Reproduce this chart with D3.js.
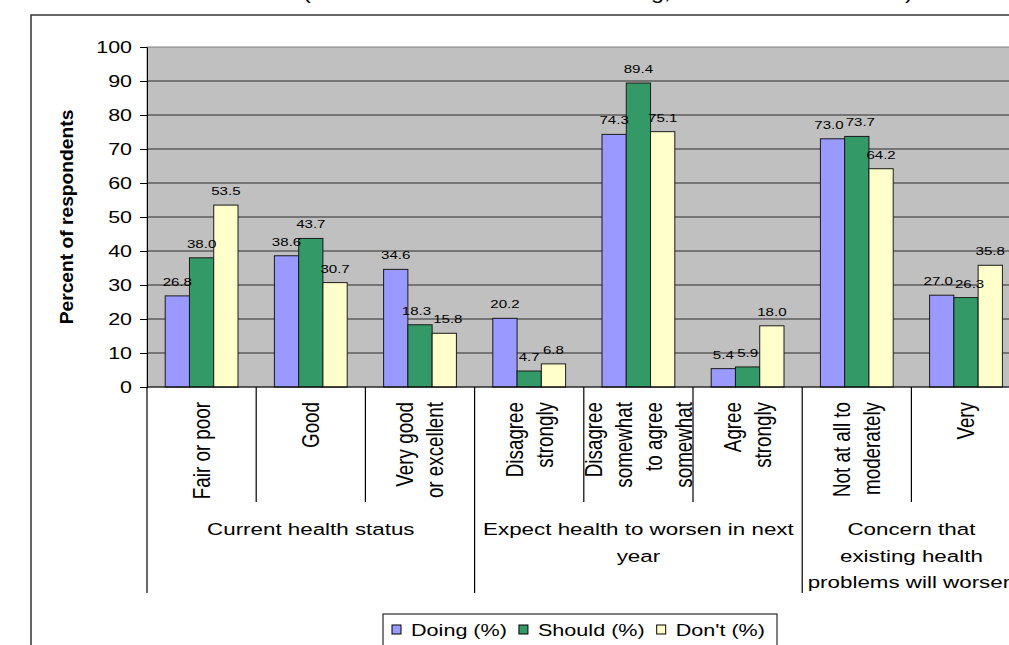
<!DOCTYPE html>
<html><head><meta charset="utf-8">
<script src="https://cdn.jsdelivr.net/npm/d3@7"></script>
<style>
html,body{margin:0;padding:0;background:#fff;overflow:hidden}
svg{display:block;font-family:"Liberation Sans",Arial,sans-serif}
</style></head>
<body>
<svg id="chart" width="1009" height="645"></svg>
<script>
// ---- data ----
const categories = [
  ["Fair or poor"],
  ["Good"],
  ["Very good", "or excellent"],
  ["Disagree", "strongly"],
  ["Disagree", "somewhat", "to agree", "somewhat"],
  ["Agree", "strongly"],
  ["Not at all to", "moderately"],
  ["Very"]
];
const groups = [
  {label: ["Current health status"], size: 3},
  {label: ["Expect health to worsen in next", "year"], size: 3},
  {label: ["Concern that", "existing health", "problems will worsen"], size: 2}
];
const seriesNames = ["Doing (%)", "Should (%)", "Don't (%)"];
const doing  = [26.8, 38.6, 34.6, 20.2, 74.3, 5.4, 73.0, 27.0];
const should = [38.0, 43.7, 18.3, 4.7, 89.4, 5.9, 73.7, 26.3];
const dont   = [53.5, 30.7, 15.8, 6.8, 75.1, 18.0, 64.2, 35.8];
const yTicks = [0, 10, 20, 30, 40, 50, 60, 70, 80, 90, 100];
const yTitle = "Percent of respondents";
const titleFragments = ["(", "g,", ")"];

const seriesValues = [doing, should, dont];
const colors = ["#9999FF", "#339966", "#FFFFCC"];

// ---- layout ----
const svg = d3.select("#chart");
const pLeft = 147, pTop = 47, pBottom = 387, step = 109.2;
const pRight = pLeft + step * categories.length;
const SX = 1.3; // horizontal stretch of glyphs

const x = d3.scaleBand().domain(d3.range(categories.length)).range([pLeft, pRight]).padding(0);
const xs = d3.scaleBand().domain(d3.range(3)).range([0, x.bandwidth()]).paddingInner(0).paddingOuter(0.75);
const y = d3.scaleLinear().domain([0, 100]).range([pBottom, pTop]);

// title fragments (cut off at top)
const titleX = [303, 651, 905];
svg.append("g").selectAll("text").data(titleFragments).join("text")
  .attr("transform", (d, i) => `translate(${titleX[i]},-1) scale(${SX},1)`)
  .attr("font-size", 18).attr("fill", "#000").text(d => d);

// chart frame
svg.append("rect").attr("x", 31).attr("y", 15).attr("width", 1200).attr("height", 800)
  .attr("fill", "#fff").attr("stroke", "#333").attr("stroke-width", 1.5);

// plot area
svg.append("rect").attr("x", pLeft).attr("y", pTop).attr("width", pRight - pLeft).attr("height", pBottom - pTop)
  .attr("fill", "#C0C0C0").attr("stroke", "#808080").attr("stroke-width", 1);

// gridlines
svg.append("g").selectAll("line").data(yTicks.filter(t => t > 0 && t < 100)).join("line")
  .attr("x1", pLeft).attr("x2", pRight).attr("y1", d => y(d)).attr("y2", d => y(d))
  .attr("stroke", "#2a2a2a").attr("stroke-width", 1);

// bars
const barData = [];
categories.forEach((c, i) => seriesValues.forEach((vals, s) => barData.push({i, s, v: vals[i]})));
svg.append("g").selectAll("rect").data(barData).join("rect")
  .attr("x", d => x(d.i) + xs(d.s)).attr("width", xs.bandwidth())
  .attr("y", d => y(d.v)).attr("height", d => y(0) - y(d.v))
  .attr("fill", d => colors[d.s]).attr("stroke", "#1a1a1a").attr("stroke-width", 1);

// value labels with simple collision nudge
const LBL_FS = 11.6;
const lblG = svg.append("g");
const lbls = barData.map(d => {
  const t = lblG.append("text").attr("font-size", LBL_FS).attr("fill", "#000")
    .attr("text-anchor", "middle").text(d3.format(".1f")(d.v));
  return {d, t, cx: x(d.i) + xs(d.s) + xs.bandwidth() / 2, cy: y(d.v) - 10,
          w: t.node().getComputedTextLength() * SX};
});
for (let i = 0; i < categories.length; i++) {
  const row = lbls.filter(l => l.d.i === i);
  for (let k = 0; k < row.length - 1; k++) {
    const a = row[k], b = row[k + 1];
    if (Math.abs(a.cy - b.cy) < LBL_FS) {
      const overlap = (a.cx + a.w / 2) - (b.cx - b.w / 2) + 2;
      if (overlap > 0) { a.cx -= overlap / 2; b.cx += overlap / 2; }
    }
  }
}
lbls.forEach(l => l.t.attr("transform", `translate(${l.cx},${l.cy}) scale(${SX},1)`));

// y axis
const yAxis = svg.append("g").attr("transform", `translate(${pLeft},0)`)
  .call(d3.axisLeft(y).tickValues(yTicks).tickSize(7).tickSizeOuter(0));
yAxis.select(".domain").attr("stroke", "#000");
yAxis.selectAll(".tick line").attr("stroke", "#000");
yAxis.selectAll(".tick text")
  .attr("x", null).attr("dy", null)
  .attr("transform", `translate(-15,0) scale(${SX},1)`)
  .attr("dominant-baseline", "central")
  .attr("font-size", 16.5).attr("font-family", "Liberation Sans, Arial, sans-serif").attr("fill", "#000");

// x axis line
svg.append("line").attr("x1", pLeft).attr("x2", pRight).attr("y1", pBottom).attr("y2", pBottom)
  .attr("stroke", "#000").attr("stroke-width", 1);

// y title
svg.append("text")
  .attr("transform", `translate(67,${(pTop + pBottom) / 2}) rotate(-90) scale(1.1,1)`)
  .attr("text-anchor", "middle").attr("dominant-baseline", "central")
  .attr("font-size", 17.5).attr("font-weight", "bold").attr("fill", "#000")
  .text(yTitle);

// group boundaries
let acc = 0;
const groupBounds = [0];
groups.forEach(g => { acc += g.size; groupBounds.push(acc); });
const catTickY2 = 502, groupTickY2 = 593;
svg.append("g").selectAll("line").data(d3.range(categories.length + 1)).join("line")
  .attr("x1", i => pLeft + i * step).attr("x2", i => pLeft + i * step)
  .attr("y1", pBottom).attr("y2", i => groupBounds.includes(i) ? groupTickY2 : catTickY2)
  .attr("stroke", "#000").attr("stroke-width", 1.2);

// category labels
const catG = svg.append("g");
categories.forEach((lines, i) => {
  const cx = x(i) + x.bandwidth() / 2;
  lines.forEach((ln, j) => {
    const off = (j - (lines.length - 1) / 2) * 30;
    catG.append("text")
      .attr("transform", `translate(${cx + off},402) scale(${SX},1) rotate(-90)`)
      .attr("text-anchor", "end").attr("dominant-baseline", "central")
      .attr("font-size", 18.8).attr("fill", "#000").text(ln);
  });
});

// group labels
const grpG = svg.append("g");
groups.forEach((g, k) => {
  const cx = pLeft + (groupBounds[k] + groupBounds[k + 1]) / 2 * step;
  g.label.forEach((ln, j) => {
    grpG.append("text")
      .attr("transform", `translate(${cx},${535 + j * 26.7}) scale(${SX},1)`)
      .attr("text-anchor", "middle").attr("font-size", 17.2).attr("fill", "#000").text(ln);
  });
});

// legend
const legG = svg.append("g");
legG.append("rect").attr("x", 383).attr("y", 614).attr("width", 394).attr("height", 60)
  .attr("fill", "#fff").attr("stroke", "#000").attr("stroke-width", 1);
let lx = 392;
seriesNames.forEach((name, s) => {
  legG.append("rect").attr("x", lx).attr("y", 625).attr("width", 9).attr("height", 9)
    .attr("fill", colors[s]).attr("stroke", "#000").attr("stroke-width", 1);
  const t = legG.append("text")
    .attr("transform", `translate(${lx + 19},635.5) scale(${SX},1)`)
    .attr("font-size", 16.6).attr("fill", "#000").text(name);
  lx += 19 + t.node().getComputedTextLength() * SX + 12;
});
</script>
</body></html>
